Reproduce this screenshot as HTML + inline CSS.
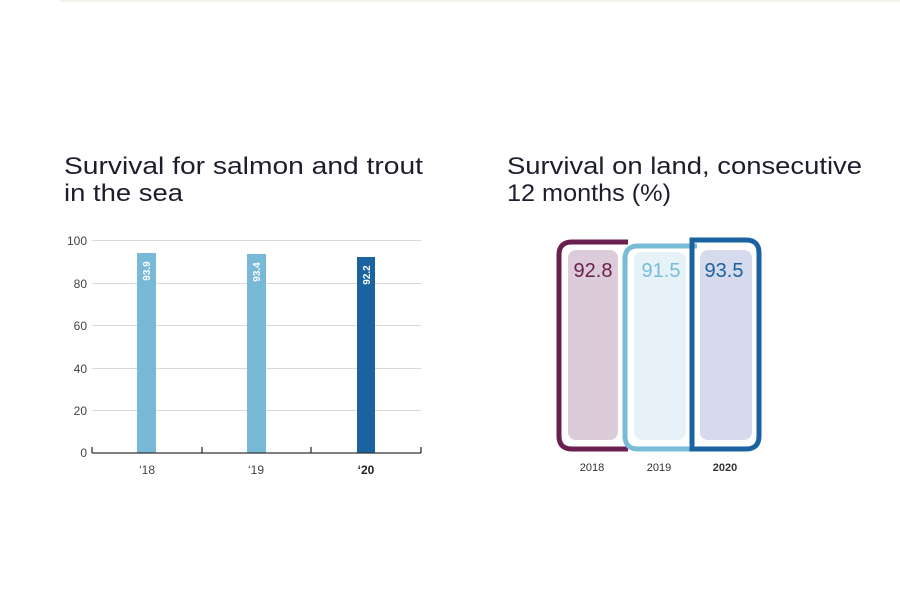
<!DOCTYPE html>
<html><head><meta charset="utf-8"><style>
html,body{margin:0;padding:0;background:#fff;width:900px;height:600px;overflow:hidden}
svg{display:block;font-family:"Liberation Sans",sans-serif}
</style></head><body>
<svg width="900" height="600" viewBox="0 0 900 600">
<line x1="60" y1="1" x2="900" y2="1" stroke="#f2f4ec" stroke-width="2"/>
<text x="64" y="174" font-size="24" fill="#1f1d2c" textLength="359" lengthAdjust="spacingAndGlyphs">Survival for salmon and trout</text>
<text x="64" y="201" font-size="24" fill="#1f1d2c" textLength="119" lengthAdjust="spacingAndGlyphs">in the sea</text>
<text x="507" y="174" font-size="24" fill="#1f1d2c" textLength="355" lengthAdjust="spacingAndGlyphs">Survival on land, consecutive</text>
<text x="507" y="201" font-size="24" fill="#1f1d2c" textLength="164" lengthAdjust="spacingAndGlyphs">12 months (%)</text>
<g stroke="#d8d8d8" stroke-width="1">
<line x1="92" y1="240.5" x2="421" y2="240.5"/><line x1="92" y1="283.5" x2="421" y2="283.5"/>
<line x1="92" y1="325.5" x2="421" y2="325.5"/><line x1="92" y1="368.5" x2="421" y2="368.5"/>
<line x1="92" y1="410.5" x2="421" y2="410.5"/></g>
<g font-size="12" fill="#444" text-anchor="end">
<text x="87" y="245">100</text><text x="87" y="288">80</text><text x="87" y="330">60</text>
<text x="87" y="373">40</text><text x="87" y="415">20</text><text x="87" y="457">0</text></g>
<rect x="137" y="253" width="19" height="200" fill="#77b9d6"/>
<rect x="247" y="254" width="19" height="199" fill="#77b9d6"/>
<rect x="357" y="257" width="18" height="196" fill="#1a62a0"/>
<g font-size="10" font-weight="bold" fill="#fff" text-anchor="middle">
<text transform="translate(150,271) rotate(-90)">93.9</text>
<text transform="translate(260,272) rotate(-90)">93.4</text>
<text transform="translate(370,275) rotate(-90)">92.2</text></g>
<g stroke="#333" stroke-width="1.3"><line x1="92" y1="453" x2="421" y2="453"/>
<line x1="92" y1="447" x2="92" y2="453"/><line x1="202" y1="447" x2="202" y2="453"/>
<line x1="311" y1="447" x2="311" y2="453"/><line x1="421" y1="447" x2="421" y2="453"/></g>
<g font-size="12" fill="#444" text-anchor="middle">
<text x="147" y="474">‘18</text><text x="256" y="474">‘19</text>
<text x="366" y="474" font-weight="bold" fill="#222">‘20</text></g>
<rect x="568" y="250" width="50" height="190" rx="8" fill="#dccbd8"/>
<rect x="634" y="252" width="52" height="188" rx="8" fill="#e6f1f8"/>
<rect x="700" y="250" width="52" height="190" rx="8" fill="#d5daec"/>
<path d="M628 242 H572 Q559 242 559 255 V436 Q559 449 572 449 H628" fill="none" stroke="#6b1f4f" stroke-width="5"/>
<path d="M697 246 H638 Q625 246 625 259 V436 Q625 449 638 449 H697" fill="none" stroke="#79bcd8" stroke-width="5"/>
<path d="M692 240 H746 Q759 240 759 253 V436 Q759 449 746 449 H692 Z" fill="none" stroke="#1a62a0" stroke-width="5"/>
<g font-size="20" text-anchor="middle">
<text x="593" y="277" fill="#6b1f4f">92.8</text>
<text x="661" y="277" fill="#79bcd8">91.5</text>
<text x="724" y="277" fill="#1a62a0">93.5</text></g>
<g font-size="11" fill="#333" text-anchor="middle">
<text x="592" y="471">2018</text><text x="659" y="471">2019</text>
<text x="725" y="471" font-weight="bold">2020</text></g>
</svg>
</body></html>
